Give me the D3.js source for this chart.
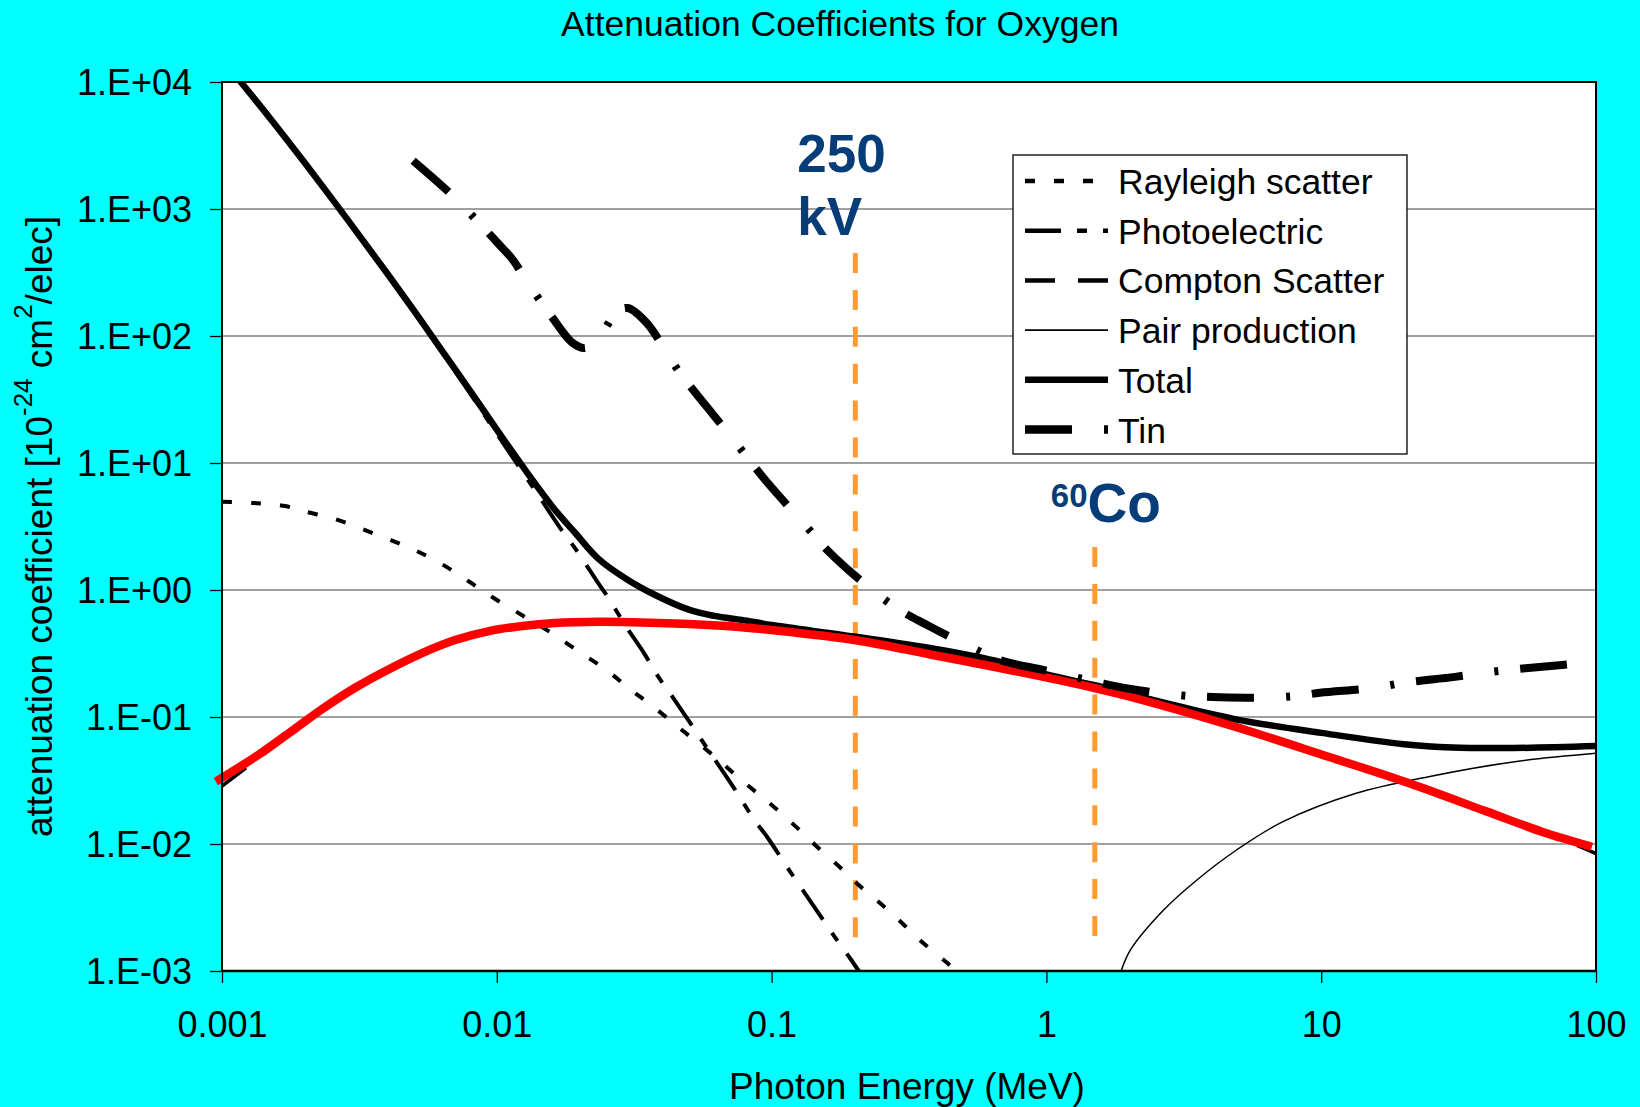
<!DOCTYPE html>
<html><head><meta charset="utf-8">
<script src="https://cdn.jsdelivr.net/npm/d3@7"></script>
<style>html,body{margin:0;padding:0;background:#00FFFF;}svg{display:block;}</style>
</head><body>
<svg id="chart" width="1640" height="1107"></svg>
<script>
// ---------- data (energy MeV, coefficient 1e-24 cm^2/electron) ----------
const rayleigh = [[0.001,4.96],[0.0013,4.84],[0.0017,4.58],[0.002,4.15],[0.0026,3.6],[0.0033,2.97],[0.0042,2.43],[0.0052,1.99],[0.0064,1.57],[0.008,1.15],[0.01,0.834],[0.0127,0.612],[0.0156,0.467],[0.02,0.325],[0.0252,0.232],[0.0305,0.166],[0.0371,0.1205],[0.0465,0.081],[0.0622,0.0486],[0.0753,0.0337],[0.09,0.0245],[0.103,0.0192],[0.124,0.0134],[0.148,0.0093],[0.178,0.0065],[0.204,0.0049],[0.248,0.00343],[0.298,0.00239],[0.356,0.00166],[0.435,0.00116],[0.5,0.00088]];
const photoelectric = [[0.001,15190],[0.0015,5130],[0.002,2300],[0.003,716],[0.004,306],[0.005,156],[0.006,88],[0.008,35.3],[0.01,17.0],[0.0127,7.9],[0.0147,4.93],[0.0173,2.92],[0.0193,2.12],[0.0233,1.15],[0.0258,0.83],[0.0293,0.53],[0.0346,0.31],[0.038,0.22],[0.0444,0.136],[0.0582,0.057],[0.0736,0.0268],[0.0856,0.016],[0.0962,0.0114],[0.1166,0.0061],[0.1475,0.0029],[0.173,0.00175],[0.193,0.00126],[0.22,0.00083]];
const compton = [[0.001,0.0286],[0.0013,0.044],[0.00175,0.072],[0.0023,0.113],[0.003,0.166],[0.004,0.233],[0.0053,0.312],[0.007,0.398],[0.0094,0.47],[0.0124,0.515],[0.0163,0.545],[0.024,0.557],[0.03,0.555],[0.05,0.535],[0.078,0.5],[0.1,0.48],[0.2,0.405],[0.4,0.312],[0.7,0.245],[1,0.211],[1.5,0.172],[2,0.146],[3,0.117],[5,0.0857],[10,0.05],[20,0.031],[40,0.0178],[60,0.0128],[80,0.0103],[100,0.0084]];
const pairProduction = [[1.8,0.00075],[1.87,0.001],[2.02,0.00146],[2.67,0.00302],[3.53,0.00521],[4.92,0.00897],[7.26,0.015],[13.4,0.0251],[24.6,0.0339],[50.6,0.0445],[100,0.0518]];
const total = [[0.001,15200],[0.0015,5140],[0.002,2310],[0.003,720],[0.004,309],[0.005,158],[0.006,90],[0.008,37],[0.01,18.3],[0.0127,8.8],[0.0163,4.27],[0.0193,2.81],[0.0235,1.75],[0.03,1.2],[0.0377,0.914],[0.05,0.70],[0.062,0.625],[0.078,0.58],[0.1,0.53],[0.2,0.43],[0.39,0.345],[0.68,0.272],[1,0.216],[1.5,0.178],[2,0.152],[3,0.122],[5,0.095],[10,0.075],[20,0.061],[30,0.0575],[50,0.057],[100,0.059]];
const tin = [[0.00496,2400],[0.00687,1288],[0.00855,790],[0.01,550],[0.01146,396],[0.0129,266],[0.01549,152],[0.0189,88],[0.0209,80.5],[0.0232,93],[0.0274,155],[0.030,166],[0.0352,126],[0.0403,82],[0.0456,54],[0.0648,20.7],[0.0787,12.2],[0.0962,7.08],[0.1324,3.25],[0.162,1.99],[0.2,1.31],[0.281,0.734],[0.368,0.53],[0.494,0.383],[0.678,0.281],[0.98,0.234],[1.5,0.19],[2,0.167],[2.99,0.149],[4.03,0.1435],[5.5,0.142],[7.8,0.145],[9.9,0.155],[15.4,0.169],[19.7,0.185],[30.7,0.207],[40.8,0.226],[75.2,0.257],[100,0.271]];
const comptonHighlight = [[0.00095,0.031],[0.00132,0.0484],[0.00175,0.0745],[0.00231,0.115],[0.00305,0.17],[0.00405,0.238],[0.00535,0.319],[0.00705,0.404],[0.00937,0.475],[0.0124,0.521],[0.0163,0.55],[0.0237,0.562],[0.0286,0.56],[0.05,0.54],[0.078,0.51],[0.0962,0.488],[0.2,0.404],[0.386,0.308],[0.678,0.243],[1.5,0.169],[2,0.145],[4.92,0.083],[10.7,0.0484],[20.8,0.0302],[40,0.018],[63.5,0.0125],[80,0.0107],[96.6,0.0095]];

const markerEnergies = [0.2, 1.5];           // 250 kV, 60Co
const xTickValues = [0.001,0.01,0.1,1,10,100];
const xTickLabels = ["0.001","0.01","0.1","1","10","100"];
const yTickValues = [1e4,1e3,1e2,1e1,1,1e-1,1e-2,1e-3];
const yTickLabels = ["1.E+04","1.E+03","1.E+02","1.E+01","1.E+00","1.E-01","1.E-02","1.E-03"];
const legendLabels = ["Rayleigh scatter","Photoelectric","Compton Scatter","Pair production","Total","Tin"];

// ---------- layout / style ----------
const FONT = "'Liberation Sans', Arial, Helvetica, sans-serif";
const W = 1640, H = 1107;
const m = {left:222, right:1596, top:82, bottom:971};
const svg = d3.select("#chart");
svg.append("rect").attr("width",W).attr("height",H).attr("fill","#00FFFF");

const x = d3.scaleLog().domain([0.001,100]).range([m.left,m.right]);
const y = d3.scaleLog().domain([1e-3,1e4]).range([m.bottom,m.top]);

svg.append("defs").append("clipPath").attr("id","plotclip")
  .append("rect").attr("x",m.left).attr("y",m.top).attr("width",m.right-m.left).attr("height",m.bottom-m.top);

svg.append("rect").attr("x",m.left).attr("y",m.top).attr("width",m.right-m.left).attr("height",m.bottom-m.top).attr("fill","#ffffff");

// gridlines
svg.append("g").selectAll("line").data(yTickValues).join("line")
  .attr("x1",m.left).attr("x2",m.right).attr("y1",d=>y(d)).attr("y2",d=>y(d))
  .attr("stroke","#808080").attr("stroke-width",1.3);

// axes
const gy = svg.append("g").attr("transform",`translate(${m.left},0)`)
  .call(d3.axisLeft(y).tickValues(yTickValues).tickFormat((d,i)=>yTickLabels[i]).tickSizeInner(12).tickSizeOuter(0).tickPadding(18));
gy.select(".domain").remove();
gy.selectAll(".tick line").attr("stroke","#000").attr("stroke-width",1.3);
gy.selectAll(".tick text").attr("font-family",FONT).attr("font-size",36).attr("fill","#000").attr("dy","0.35em");

const gx = svg.append("g").attr("transform",`translate(0,${m.bottom})`)
  .call(d3.axisBottom(x).tickValues(xTickValues).tickFormat((d,i)=>xTickLabels[i]).tickSizeInner(12).tickSizeOuter(0));
gx.select(".domain").remove();
gx.selectAll(".tick line").attr("stroke","#000").attr("stroke-width",1.3);
gx.selectAll(".tick text").attr("font-family",FONT).attr("font-size",36).attr("fill","#000").attr("y",66).attr("dy",0);

// marker lines
const orange = "#FF9933";
svg.append("line").attr("x1",x(markerEnergies[0])+1).attr("x2",x(markerEnergies[0])+1).attr("y1",253).attr("y2",940)
  .attr("stroke",orange).attr("stroke-width",5).attr("stroke-dasharray","20,16.9");
svg.append("line").attr("x1",x(markerEnergies[1])).attr("x2",x(markerEnergies[1])).attr("y1",547).attr("y2",940)
  .attr("stroke",orange).attr("stroke-width",5).attr("stroke-dasharray","20,16.9");

// series
const line = d3.line().x(d=>x(d[0])).y(d=>y(d[1])).curve(d3.curveCatmullRom.alpha(0.5));
const styles = [
  {data:rayleigh, w:4, lw:4.5, dash:"10,19"},
  {data:photoelectric, w:4, lw:4.5, dash:"36,16,10,16"},
  {data:compton, w:3.5, lw:4.5, dash:"30,23"},
  {data:pairProduction, w:1.5, lw:1.6, dash:null},
  {data:total, w:6.5, lw:6.5, dash:null},
  {data:tin, w:8, lw:8.5, dash:"47,32,4,22"}
];
const gLines = svg.append("g").attr("clip-path","url(#plotclip)");
styles.slice(0,5).forEach(s=>{
  gLines.append("path").attr("d",line(s.data)).attr("fill","none").attr("stroke","#000")
    .attr("stroke-width",s.w).attr("stroke-dasharray",s.dash).attr("stroke-linejoin","round");
});
svg.append("path").attr("d",line(comptonHighlight)).attr("fill","none").attr("stroke","#FF0000").attr("stroke-width",8.5).attr("stroke-linejoin","round");
svg.append("g").attr("clip-path","url(#plotclip)").append("path").attr("d",line(tin)).attr("fill","none").attr("stroke","#000")
  .attr("stroke-width",styles[5].w).attr("stroke-dasharray",styles[5].dash);

// plot border
svg.append("rect").attr("x",m.left).attr("y",m.top).attr("width",m.right-m.left).attr("height",m.bottom-m.top)
  .attr("fill","none").attr("stroke","#000").attr("stroke-width",2);
svg.append("line").attr("x1",m.left).attr("x2",m.right).attr("y1",m.bottom).attr("y2",m.bottom).attr("stroke","#000").attr("stroke-width",2.6);

// legend
const lg = svg.append("g");
lg.append("rect").attr("x",1013).attr("y",155).attr("width",394).attr("height",299).attr("fill","#fff").attr("stroke","#000").attr("stroke-width",1.3);
legendLabels.forEach((lab,i)=>{
  const cy = 181 + i*49.7;
  const s = styles[i];
  lg.append("line").attr("x1",1025).attr("x2",1108).attr("y1",cy).attr("y2",cy)
    .attr("stroke","#000").attr("stroke-width",s.lw).attr("stroke-dasharray",s.dash);
  lg.append("text").attr("x",1118).attr("y",cy+13).attr("font-family",FONT).attr("font-size",35.5).attr("fill","#000").text(lab);
});

// annotations
const blue = "#063C78";
svg.append("text").attr("x",x(markerEnergies[0])-57).attr("y",172).attr("font-family",FONT).attr("font-weight","bold").attr("font-size",53).attr("fill",blue).text("250");
svg.append("text").attr("x",x(markerEnergies[0])-57).attr("y",235).attr("font-family",FONT).attr("font-weight","bold").attr("font-size",53).attr("fill",blue).text("kV");
const co = svg.append("text").attr("x",x(markerEnergies[1])-44).attr("y",522).attr("font-family",FONT).attr("font-weight","bold").attr("fill",blue);
co.append("tspan").attr("font-size",33).attr("dy",-15).text("60");
co.append("tspan").attr("font-size",55).attr("dy",15).text("Co");

// titles
svg.append("text").attr("x",840).attr("y",36).attr("text-anchor","middle").attr("font-family",FONT).attr("font-size",35.5).attr("fill","#000")
  .text("Attenuation Coefficients for Oxygen");
svg.append("text").attr("x",907).attr("y",1099).attr("text-anchor","middle").attr("font-family",FONT).attr("font-size",37).attr("fill","#000")
  .text("Photon Energy (MeV)");
const yl = svg.append("text").attr("transform",`translate(52,${(m.top+m.bottom)/2}) rotate(-90)`).attr("text-anchor","middle")
  .attr("font-family",FONT).attr("font-size",37).attr("fill","#000");
yl.append("tspan").text("attenuation coefficient [10");
yl.append("tspan").attr("font-size",26).attr("dy",-20).text("-24");
yl.append("tspan").attr("dy",20).text(" cm");
yl.append("tspan").attr("font-size",26).attr("dy",-20).text("2");
yl.append("tspan").attr("dy",20).text("/elec]");
</script>
</body></html>
